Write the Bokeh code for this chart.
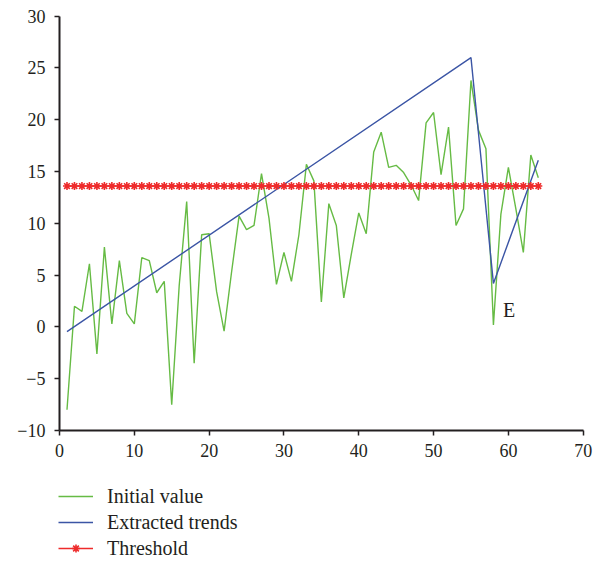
from bokeh.plotting import figure
from bokeh.models import FixedTicker, Legend, LegendItem, Label, Range1d
from bokeh.core.properties import value
from bokeh.embed import file_html
from bokeh.resources import INLINE

x_initial = list(range(1, 65))
y_initial = [-8.0, 2.0, 1.5, 6.1, -2.6, 7.7, 0.3, 6.4, 1.3, 0.3,
             6.7, 6.4, 3.3, 4.4, -7.5, 4.0, 12.1, -3.5, 8.9, 9.0,
             3.4, -0.4, 5.3, 10.7, 9.4, 9.8, 14.8, 10.5, 4.1, 7.2,
             4.4, 8.9, 15.7, 14.1, 2.4, 11.9, 9.8, 2.8, 7.0, 11.0,
             9.0, 16.9, 18.8, 15.4, 15.6, 14.9, 13.7, 12.2, 19.7, 20.7,
             14.7, 19.3, 9.8, 11.4, 23.8, 19.0, 17.2, 0.2, 10.9, 15.4,
             11.4, 7.2, 16.6, 14.4]

x_trend = [1, 55, 58, 64]
y_trend = [-0.45, 26.0, 4.2, 16.1]

x_threshold = list(range(1, 65))
y_threshold = [13.6] * 64

x_ticks = [0, 10, 20, 30, 40, 50, 60, 70]
y_ticks = [-10, -5, 0, 5, 10, 15, 20, 25, 30]
x_axis_min, x_axis_max = 0, 70
y_axis_min, y_axis_max = -10, 30

TEXT = "#231f20"
SERIF = "Liberation Serif"

# the frame covers the whole canvas; the axes are pinned at x=0 / y=-10 so that
# tick labels and the legend below the axis are drawn inside the frame
p = figure(width=602, height=561, output_backend="svg", toolbar_location=None,
           x_range=Range1d(-7.887, 72.58), y_range=Range1d(-22.648, 31.516),
           min_border_left=0, min_border_right=0, min_border_top=0,
           min_border_bottom=0)
p.outline_line_color = None
p.xgrid.visible = False
p.ygrid.visible = False
p.background_fill_color = "white"
p.border_fill_color = "white"

for ax in (p.xaxis[0], p.yaxis[0]):
    ax.axis_line_color = TEXT
    ax.axis_line_width = 2
    ax.major_tick_line_color = TEXT
    ax.major_tick_line_width = 1.5
    ax.major_tick_out = 5
    ax.major_tick_in = 0
    ax.minor_tick_line_color = None
    ax.major_label_text_font = SERIF
    ax.major_label_text_font_size = "18px"
    ax.major_label_text_color = TEXT
    ax.major_label_standoff = 9

p.xaxis[0].ticker = FixedTicker(ticks=x_ticks)
p.xaxis[0].fixed_location = y_axis_min
p.xaxis[0].bounds = (x_axis_min, x_axis_max)
p.yaxis[0].ticker = FixedTicker(ticks=y_ticks)
p.yaxis[0].fixed_location = x_axis_min
p.yaxis[0].bounds = (y_axis_min, y_axis_max)
p.yaxis[0].major_label_overrides = {t: (str(t).replace("-", "\u2212")) for t in y_ticks}

r_init = p.line(x_initial, y_initial, line_color="#66bb44", line_width=1.4)
r_trend = p.line(x_trend, y_trend, line_color="#3b55a5", line_width=1.4)
r_thr_line = p.line(x_threshold, y_threshold, line_color="#ee2b2b", line_width=1.4)
r_thr_pts = p.scatter(x_threshold, y_threshold, marker="asterisk", size=8,
                      line_color="#ee2b2b", line_width=1.6)

p.add_layout(Label(x=60.1, y=1.65, text="E", text_font=SERIF, text_font_size="20px",
                   text_color=TEXT, text_align="center", text_baseline="middle"))

legend = Legend(items=[
    LegendItem(label="Initial value", renderers=[r_init]),
    LegendItem(label="Extracted trends", renderers=[r_trend]),
    LegendItem(label="Threshold", renderers=[r_thr_line, r_thr_pts]),
], location=(58, 1.5), orientation="vertical",
    label_text_font=SERIF, label_text_font_size="20px", label_text_color=TEXT,
    glyph_width=35, glyph_height=20, label_height=20, label_standoff=14,
    spacing=3, padding=0, margin=0,
    background_fill_alpha=0, border_line_color=None)
p.add_layout(legend, "center")

open("out.html", "w").write(file_html(p, INLINE))
